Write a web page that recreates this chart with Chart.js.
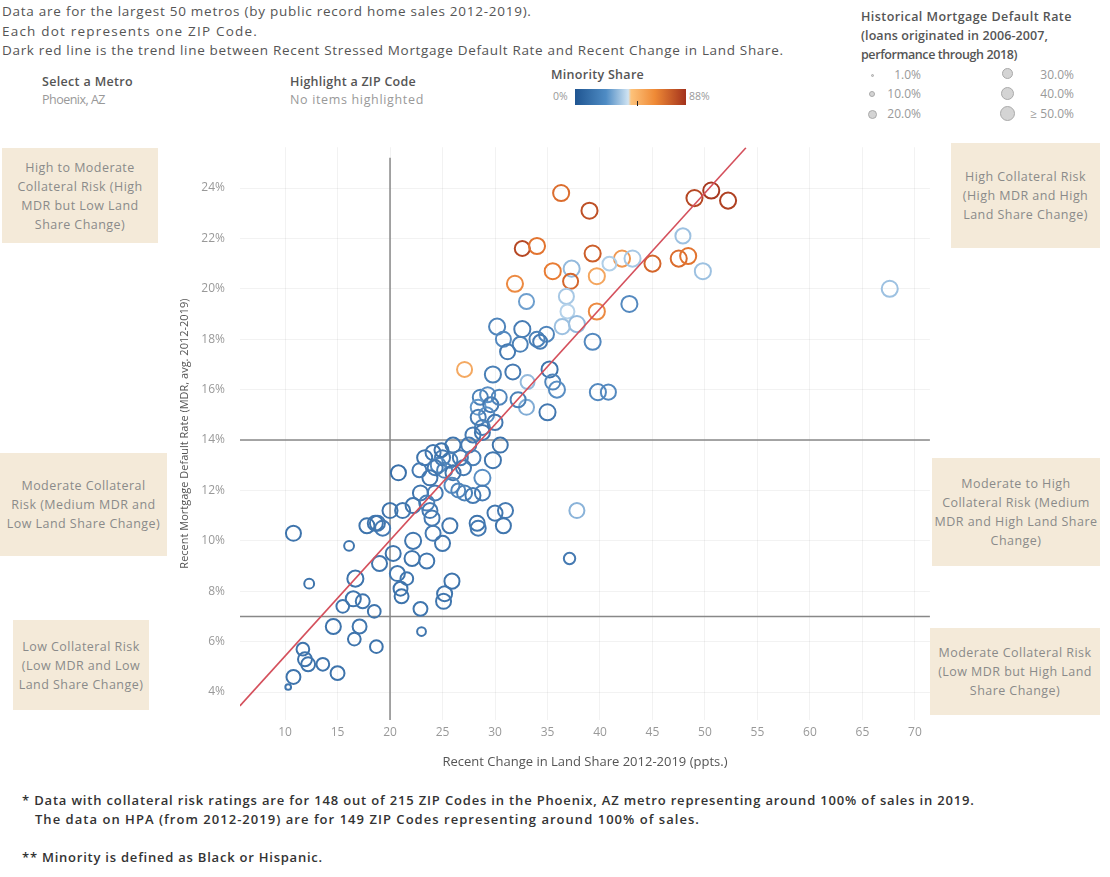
<!DOCTYPE html>
<html>
<head>
<meta charset="utf-8">
<script src="https://cdn.jsdelivr.net/npm/chart.js@4.4.0/dist/chart.umd.min.js"></script>
<style>
  body { margin: 0; width: 1110px; height: 877px; position: relative; background: #fff; overflow: hidden;
         font-family: "Open Sans", sans-serif; }
  .t { position: absolute; white-space: nowrap; }
  .note { font-size: 13.5px; color: #555; }
  .lbl { font-size: 12.5px; color: #555; font-weight: 600; }
  .val { font-size: 12.5px; color: #999; }
  .box { position: absolute; background: #f4ead9; color: #8a8a8a; font-size: 12.5px; line-height: 19px; letter-spacing: 0.45px;
         text-align: center; display: flex; align-items: center; justify-content: center; white-space: nowrap; }
  .foot { font-size: 13px; font-weight: 600; color: #333; }
  .dot { position: absolute; border-radius: 50%; background: #d4d4d4; border: 1px solid #aaa; box-sizing: border-box; }
  .sz { font-size: 12px; color: #999; text-align: right; width: 44px; }
  #chartWrap { position: absolute; left: 170px; top: 125px; width: 770px; height: 647px; }
</style>
</head>
<body>
<div class="t note" style="left:2px;top:2px" data-w="530">Data are for the largest 50 metros (by public record home sales 2012-2019).</div>
<div class="t note" style="left:2px;top:22px" data-w="256">Each dot represents one ZIP Code.</div>
<div class="t note" style="left:2px;top:41px" data-w="782">Dark red line is the trend line between Recent Stressed Mortgage Default Rate and Recent Change in Land Share.</div>

<div class="t lbl" style="left:42px;top:73px" data-w="91">Select a Metro</div>
<div class="t val" style="left:42px;top:91px" data-w="63">Phoenix, AZ</div>
<div class="t lbl" style="left:290px;top:73px" data-w="126">Highlight a ZIP Code</div>
<div class="t val" style="left:290px;top:91px" data-w="134">No items highlighted</div>

<div class="t lbl" style="left:551px;top:66px" data-w="93">Minority Share</div>
<div class="t" style="left:553px;top:89px;font-size:10.5px;color:#999">0%</div>
<div class="t" style="left:575px;top:89px;width:111px;height:16px;background:linear-gradient(to right,#1f5591 0%,#4f8cc4 28%,#cfe3f2 48%,#fdc27a 50.5%,#ef8a36 72%,#a3321c 100%)"></div>
<div class="t" style="left:637px;top:101px;width:1px;height:5px;background:#222"></div>
<div class="t" style="left:689px;top:89px;font-size:10.5px;color:#999">88%</div>

<div class="t lbl" style="left:861px;top:8px" data-w="211">Historical Mortgage Default Rate</div>
<div class="t lbl" style="left:861px;top:27px" data-w="187">(loans originated in 2006-2007,</div>
<div class="t lbl" style="left:861px;top:46px" data-w="156">performance through 2018)</div>
<div class="dot" style="left:871px;top:74px;width:3px;height:3px"></div>
<div class="t sz" style="left:877px;top:66px">1.0%</div>
<div class="dot" style="left:869px;top:91px;width:6px;height:6px"></div>
<div class="t sz" style="left:877px;top:85px">10.0%</div>
<div class="dot" style="left:868px;top:110px;width:9px;height:9px"></div>
<div class="t sz" style="left:877px;top:105px">20.0%</div>
<div class="dot" style="left:1002px;top:68px;width:11px;height:11px"></div>
<div class="t sz" style="left:1030px;top:66px">30.0%</div>
<div class="dot" style="left:1001px;top:87px;width:13px;height:13px"></div>
<div class="t sz" style="left:1030px;top:85px">40.0%</div>
<div class="dot" style="left:1000px;top:106px;width:15px;height:15px"></div>
<div class="t sz" style="left:1030px;top:105px">&ge; 50.0%</div>

<div class="box" style="left:2px;top:148px;width:156px;height:95px">High to Moderate<br>Collateral Risk (High<br>MDR but Low Land<br>Share Change)</div>
<div class="box" style="left:0px;top:453px;width:167px;height:103px">Moderate Collateral<br>Risk (Medium MDR and<br>Low Land Share Change)</div>
<div class="box" style="left:13px;top:620px;width:136px;height:90px">Low Collateral Risk<br>(Low MDR and Low<br>Land Share Change)</div>
<div class="box" style="left:951px;top:143px;width:149px;height:105px">High Collateral Risk<br>(High MDR and High<br>Land Share Change)</div>
<div class="box" style="left:932px;top:458px;width:168px;height:108px">Moderate to High<br>Collateral Risk (Medium<br>MDR and High Land Share<br>Change)</div>
<div class="box" style="left:930px;top:628px;width:170px;height:87px">Moderate Collateral Risk<br>(Low MDR but High Land<br>Share Change)</div>

<div id="chartWrap"><canvas id="chart" width="770" height="647"></canvas></div>

<div class="t foot" style="left:22px;top:791px" data-w="953">* Data with collateral risk ratings are for 148 out of 215 ZIP Codes in the Phoenix, AZ metro representing around 100% of sales in 2019.</div>
<div class="t foot" style="left:35px;top:810px" data-w="665">The data on HPA (from 2012-2019) are for 149 ZIP Codes representing around 100% of sales.</div>
<div class="t foot" style="left:22px;top:848px" data-w="301">** Minority is defined as Black or Hispanic.</div>

<script>
// one entry per ZIP code
const landShare = [
  36.3, 39.0, 49.0, 50.6, 52.2, 32.6, 34.0, 39.3, 42.1, 43.1, 45.0, 47.5, 48.4, 47.9, 49.8,
  35.5, 37.3, 37.2, 39.7, 40.9, 31.9, 33.0, 36.8, 36.9, 39.7, 42.8, 37.8, 36.4, 27.1, 67.6,
  30.2, 32.6, 30.8, 32.4, 34.0, 34.9, 34.3, 31.2, 39.3, 35.2, 29.8, 31.7, 33.1, 35.5, 35.9,
  39.8, 40.8, 35.0, 33.0, 32.2, 28.6, 29.3, 28.4, 29.6, 28.4, 29.2, 30.0, 28.8, 30.4, 27.9,
  28.8, 26.0, 27.5, 30.5, 23.3, 24.1, 25.0, 25.7, 26.7, 27.9, 29.8, 24.6, 24.9, 20.8, 24.3,
  25.2, 26.0, 27.0, 28.8, 23.8, 25.9, 22.9, 24.3, 27.1, 27.9, 28.8, 23.5, 22.2, 20.0, 21.2,
  23.8, 24.0, 18.8, 19.3, 17.8, 18.6, 25.7, 28.3, 28.4, 30.0, 31.0, 30.8, 22.2, 24.1, 25.0,
  20.3, 22.1, 23.5, 19.0, 10.8, 16.1, 12.3, 16.7, 15.5, 16.5, 17.4, 18.5, 14.6, 17.1, 16.6,
  18.7, 11.7, 11.9, 12.2, 13.6, 15.0, 10.8, 10.3, 20.7, 21.6, 21.0, 21.1, 22.9, 23.0, 25.2,
  25.1, 25.9, 37.8, 37.1, 26.5, 22.8
];
const mdr = [
  23.8, 23.1, 23.6, 23.9, 23.5, 21.6, 21.7, 21.4, 21.2, 21.2, 21.0, 21.2, 21.3, 22.1, 20.7,
  20.7, 20.8, 20.3, 20.5, 21.0, 20.2, 19.5, 19.7, 19.1, 19.1, 19.4, 18.6, 18.5, 16.8, 20.0,
  18.5, 18.4, 18.0, 17.8, 18.0, 18.2, 17.9, 17.5, 17.9, 16.8, 16.6, 16.7, 16.3, 16.3, 16.0,
  15.9, 15.9, 15.1, 15.3, 15.6, 15.7, 15.8, 15.3, 15.4, 14.9, 15.0, 14.7, 14.5, 15.7, 14.2,
  14.3, 13.8, 13.8, 13.8, 13.3, 13.5, 13.3, 13.2, 13.3, 13.3, 13.2, 13.0, 13.6, 12.7, 12.9,
  12.8, 12.7, 12.9, 12.5, 12.5, 12.2, 11.9, 11.9, 11.9, 11.8, 11.9, 11.5, 11.4, 11.2, 11.2,
  11.2, 10.9, 10.7, 10.5, 10.6, 10.7, 10.6, 10.7, 10.5, 11.1, 11.2, 10.6, 10.0, 10.3, 9.9,
  9.5, 9.3, 9.2, 9.1, 10.3, 9.8, 8.3, 8.5, 7.4, 7.7, 7.6, 7.2, 6.6, 6.6, 6.1,
  5.8, 5.7, 5.3, 5.1, 5.1, 4.75, 4.6, 4.2, 8.7, 8.5, 8.1, 7.8, 7.3, 6.4, 7.9,
  7.6, 8.4, 11.2, 9.3, 12.0, 12.8
];
// minority share (%) -> colour
const minority = [
  72, 80, 82, 86, 84, 82, 70, 76, 60, 42, 74, 72, 70, 40, 40,
  68, 38, 74, 56, 44, 64, 30, 42, 45, 64, 22, 38, 40, 55, 40,
  20, 16, 22, 18, 18, 20, 16, 15, 22, 12, 18, 15, 38, 20, 24,
  22, 22, 14, 34, 18, 18, 24, 28, 15, 16, 24, 14, 18, 20, 15,
  13, 13, 15, 12, 12, 13, 15, 18, 15, 18, 13, 22, 12, 10, 15,
  18, 13, 15, 24, 13, 22, 13, 15, 18, 15, 15, 18, 13, 12, 13,
  15, 15, 13, 15, 12, 13, 13, 12, 15, 13, 15, 13, 13, 15, 13,
  12, 12, 13, 13, 12, 13, 12, 12, 13, 12, 13, 12, 12, 13, 12,
  12, 12, 12, 12, 12, 12, 12, 13, 13, 13, 12, 12, 13, 13, 13,
  13, 12, 36, 15, 20, 15
];
// historical mortgage default rate (%) -> size
const histDefault = [
  40, 40, 40, 40, 40, 35, 40, 40, 40, 40, 40, 40, 40, 35, 40,
  40, 40, 35, 40, 30, 40, 35, 35, 30, 40, 40, 40, 35, 35, 40,
  40, 40, 35, 35, 35, 35, 30, 35, 40, 40, 40, 35, 30, 35, 40,
  40, 35, 40, 35, 35, 35, 35, 35, 35, 35, 35, 35, 35, 35, 35,
  35, 35, 35, 35, 35, 35, 35, 35, 35, 35, 40, 35, 30, 35, 35,
  35, 35, 35, 40, 35, 35, 35, 35, 35, 35, 35, 35, 35, 35, 35,
  35, 35, 35, 35, 35, 35, 35, 35, 35, 35, 35, 35, 40, 35, 35,
  35, 35, 35, 35, 35, 15, 15, 40, 25, 35, 30, 25, 35, 30, 25,
  25, 25, 30, 30, 25, 30, 30, 5, 35, 25, 30, 30, 30, 12, 35,
  35, 35, 35, 20, 30, 30
];

const trendX = [5.7, 53.9];
const trendY = [3.45, 25.6];
const refLandShare = 20;
const refMdr = [14, 7];
const xRange = [5.71, 71.43];
const yRange = [2.89, 25.62];

// stretch Tableau-style text to its measured width
document.querySelectorAll("[data-w]").forEach((el) => {
  const w = el.getBoundingClientRect().width;
  const n = el.textContent.length;
  el.style.letterSpacing = ((+el.dataset.w - w) / n).toFixed(2) + "px";
});

function mix(a, b, t) {
  return a.map((v, i) => Math.round(v + (b[i] - v) * t));
}
function colorFor(m) {
  let c;
  if (m < 49) {
    const t = m / 49;
    c = t < 0.55 ? mix([36, 90, 150], [95, 148, 200], t / 0.55) : mix([95, 148, 200], [200, 224, 242], (t - 0.55) / 0.45);
  } else {
    const t = Math.min(1, (m - 49) / 39);
    c = t < 0.5 ? mix([250, 190, 120], [232, 122, 50], t / 0.5) : mix([232, 122, 50], [160, 50, 30], (t - 0.5) / 0.5);
  }
  return `rgb(${c[0]},${c[1]},${c[2]})`;
}
function radiusFor(h) {
  return 9 * Math.sqrt(Math.min(h, 50) / 50);
}

const points = landShare.map((x, i) => ({ x: x, y: mdr[i] }));
const refLine = "#888";
const tickFont = { family: "Open Sans", size: 12 };

new Chart(document.getElementById("chart"), {
  type: "scatter",
  data: {
    datasets: [
      {
        type: "line",
        data: trendX.map((x, i) => ({ x: x, y: trendY[i] })),
        borderColor: "#d4505c",
        borderWidth: 1.6,
        pointRadius: 0,
      },
      {
        data: points,
        pointRadius: histDefault.map(radiusFor),
        pointBorderColor: minority.map(colorFor),
        pointBackgroundColor: "rgba(255,255,255,0)",
        pointBorderWidth: 2,
      },
      {
        type: "line",
        data: [{ x: refLandShare, y: 25.2 }, { x: refLandShare, y: yRange[0] }],
        borderColor: refLine,
        borderWidth: 1.5,
        pointRadius: 0,
      },
      ...refMdr.map((v) => ({
        type: "line",
        data: [{ x: xRange[0], y: v }, { x: xRange[1], y: v }],
        borderColor: refLine,
        borderWidth: 1.5,
        pointRadius: 0,
      })),
    ],
  },
  options: {
    responsive: false,
    animation: false,
    layout: { padding: { top: 5, right: 10 } },
    plugins: { legend: { display: false }, tooltip: { enabled: false } },
    scales: {
      x: {
        type: "linear",
        min: xRange[0],
        max: xRange[1],
        ticks: { stepSize: 5, includeBounds: false, color: "#999", font: tickFont, padding: 5 },
        grid: { color: "rgba(0,0,0,0.05)", drawTicks: false },
        border: { display: false },
        title: { display: true, text: "Recent Change in Land Share 2012-2019 (ppts.)", color: "#555",
                 font: { family: "Open Sans", size: 13 }, padding: { top: 4, bottom: 2 } },
        afterFit: (s) => { s.height = 52; },
      },
      y: {
        min: yRange[0],
        max: yRange[1],
        ticks: { stepSize: 2, includeBounds: false, color: "#999", font: tickFont, padding: 15,
                 callback: (v) => v + "%" },
        grid: { color: "rgba(0,0,0,0.05)", drawTicks: false },
        border: { display: false },
        title: { display: true, text: "Recent Mortgage Default Rate (MDR, avg. 2012-2019)", color: "#555",
                 font: { family: "Open Sans", size: 11 }, padding: { top: 8, bottom: 4 } },
        afterFit: (s) => { s.width = 70; },
      },
    },
  },
});
</script>
</body>
</html>
